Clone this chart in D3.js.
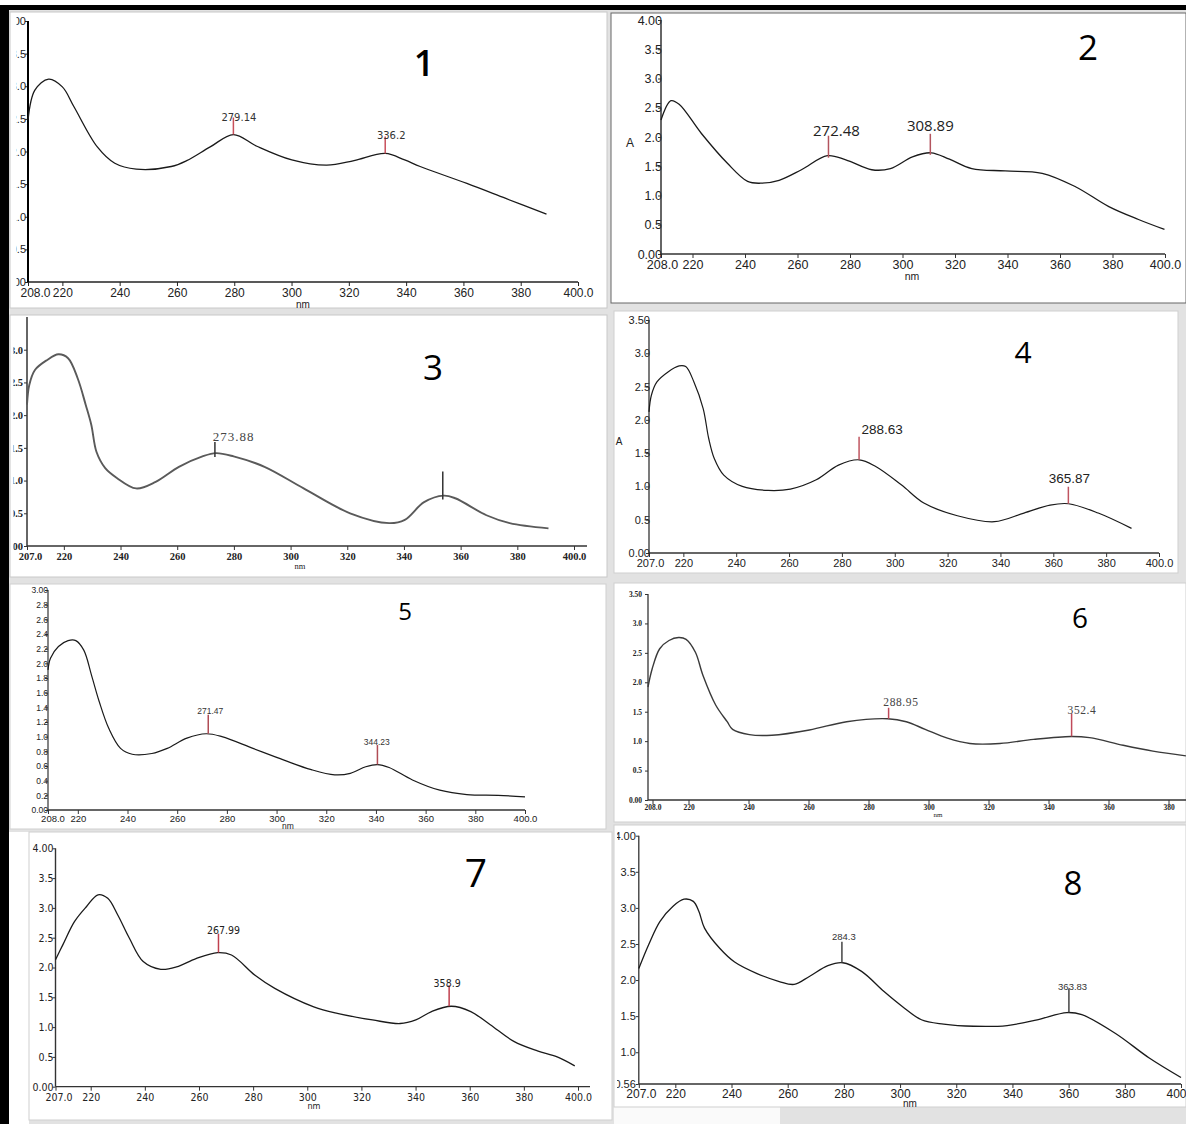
<!DOCTYPE html>
<meta charset="utf-8">
<script src="https://d3js.org/d3.v7.min.js"></script>
<style>
body { margin: 0; background: #fff; }
</style>
<div id="chart"></div>
<script>
// ---- data (wavelength nm, absorbance A) ----
const nm1 = [208, 210.4, 215.2, 220, 224, 232.2, 238.3, 245.8, 258, 263.4, 271.6, 279.7, 287.9, 300.1, 312.3, 321.8, 332.7, 339.5, 344.9, 361.2, 374.8, 389];
const abs1 = [2.48, 2.94, 3.11, 2.99, 2.69, 2.07, 1.82, 1.73, 1.77, 1.86, 2.07, 2.26, 2.08, 1.87, 1.79, 1.86, 1.97, 1.87, 1.77, 1.51, 1.28, 1.04];

const nm2 = [208, 211.8, 214.9, 223.4, 233.3, 241, 245.9, 253, 261.5, 271.4, 278.4, 288.3, 295.4, 303.8, 310.9, 317.9, 326.4, 339.1, 353.2, 365.9, 378.6, 389.9, 399.8];
const abs2 = [2.29, 2.62, 2.56, 2.06, 1.55, 1.24, 1.21, 1.26, 1.44, 1.68, 1.61, 1.44, 1.46, 1.66, 1.73, 1.62, 1.46, 1.42, 1.38, 1.15, 0.81, 0.59, 0.42];

const nm3 = [207, 207.8, 209.8, 214, 218.1, 221.5, 224.9, 227.7, 229.7, 231.5, 234.6, 238.7, 245.5, 252.4, 260.6, 268.9, 273.7, 279.9, 290.8, 304.6, 321, 334.8, 340.3, 347.1, 354, 358.1, 369.1, 377.3, 391];
const abs3 = [2.16, 2.46, 2.69, 2.84, 2.93, 2.87, 2.56, 2.16, 1.85, 1.44, 1.19, 1.04, 0.88, 0.98, 1.21, 1.37, 1.42, 1.37, 1.21, 0.88, 0.50, 0.35, 0.40, 0.67, 0.77, 0.73, 0.47, 0.35, 0.27];

const nm4 = [207, 207.9, 210, 214.2, 218.4, 220.9, 224, 227.5, 229.6, 231.7, 235.3, 242.3, 252.1, 260.5, 270.3, 278.7, 286.5, 292.8, 302.6, 311, 323.7, 337.7, 348.9, 358.8, 365.8, 377, 389.6];
const abs4 = [2.12, 2.37, 2.57, 2.72, 2.81, 2.80, 2.57, 2.17, 1.72, 1.42, 1.17, 1.00, 0.94, 0.96, 1.10, 1.32, 1.40, 1.30, 1.02, 0.75, 0.56, 0.47, 0.60, 0.72, 0.74, 0.60, 0.37];

const nm5 = [208, 209, 212.2, 216.1, 219.2, 222.4, 225.5, 228.6, 232.5, 237.2, 241.9, 249.8, 256, 263.9, 271.7, 278, 290.5, 303, 314, 323.4, 329.7, 335.9, 340.6, 345.3, 354.7, 365.7, 376.6, 389.2, 400];
const abs5 = [1.91, 2.07, 2.23, 2.31, 2.31, 2.18, 1.84, 1.48, 1.11, 0.84, 0.76, 0.77, 0.84, 0.98, 1.04, 1.00, 0.84, 0.68, 0.55, 0.48, 0.50, 0.59, 0.62, 0.58, 0.41, 0.27, 0.21, 0.20, 0.18];

const nm6 = [206.5, 207.9, 210.4, 213.5, 216.7, 219.2, 222.3, 224.8, 229.1, 232.9, 234.7, 240.3, 247.8, 260.3, 272.7, 286.4, 292.6, 298.9, 306.3, 313.8, 323.8, 335, 347.5, 353.7, 364.9, 374.8, 385.8];
const abs6 = [1.92, 2.23, 2.57, 2.71, 2.76, 2.73, 2.51, 2.12, 1.61, 1.33, 1.20, 1.11, 1.10, 1.19, 1.33, 1.38, 1.33, 1.20, 1.05, 0.96, 0.96, 1.03, 1.08, 1.06, 0.93, 0.83, 0.75];

const nm7 = [207, 209.7, 214, 218.4, 222.7, 226.3, 230, 234.3, 239.4, 245.9, 251.7, 258.9, 266.9, 272, 280.7, 288, 302.4, 311.1, 324.1, 334.3, 340.1, 345.9, 353.2, 360.4, 367.6, 376.3, 385, 392.3, 398.8];
const abs7 = [2.13, 2.38, 2.77, 3.02, 3.22, 3.16, 2.88, 2.49, 2.10, 1.97, 2.01, 2.15, 2.25, 2.21, 1.87, 1.65, 1.34, 1.23, 1.12, 1.06, 1.12, 1.26, 1.35, 1.26, 1.04, 0.76, 0.60, 0.50, 0.35];

const nm8 = [207, 210.5, 214.5, 219.1, 223.1, 226.4, 228.4, 230.4, 235.8, 241.1, 249.1, 257, 262.3, 267.7, 274.3, 279.6, 286.3, 294.3, 300.9, 307.6, 315.5, 326.2, 338.1, 348.8, 359.4, 364.7, 376.7, 388.7, 400];
const abs8 = [2.16, 2.49, 2.81, 3.02, 3.12, 3.09, 2.95, 2.72, 2.44, 2.25, 2.09, 1.98, 1.94, 2.05, 2.20, 2.24, 2.12, 1.84, 1.63, 1.45, 1.39, 1.36, 1.37, 1.45, 1.55, 1.52, 1.26, 0.92, 0.65];

// peak markers: where the stem sits, absorbance there, printed label
const peakNm1 = [279.7, 332.7], peakAbs1 = [2.26, 1.97], peakText1 = ["279.14", "336.2"];
const peakNm2 = [271.8, 310.6], peakAbs2 = [1.68, 1.73], peakText2 = ["272.48", "308.89"];
const peakNm3 = [273.3, 353.7], peakAbs3 = [1.42, 0.77], peakText3 = ["273.88", ""];
const peakNm4 = [286.5, 365.7], peakAbs4 = [1.40, 0.74], peakText4 = ["288.63", "365.87"];
const peakNm5 = [272.5, 340.6], peakAbs5 = [1.04, 0.62], peakText5 = ["271.47", "344.23"];
const peakNm6 = [286.7, 347.7], peakAbs6 = [1.38, 1.08], peakText6 = ["288.95", "352.4"];
const peakNm7 = [267.2, 352.4], peakAbs7 = [2.25, 1.35], peakText7 = ["267.99", "358.9"];
const peakNm8 = [279.3, 360.1], peakAbs8 = [2.24, 1.55], peakText8 = ["284.3", "363.83"];

// tick values and labels
const xTicks208 = [208, 220, 240, 260, 280, 300, 320, 340, 360, 380, 400];
const xLabels208 = ["208.0", "220", "240", "260", "280", "300", "320", "340", "360", "380", "400.0"];
const xTicks207 = [207, 220, 240, 260, 280, 300, 320, 340, 360, 380, 400];
const xLabels207 = ["207.0", "220", "240", "260", "280", "300", "320", "340", "360", "380", "400.0"];
const yTicks40 = [0, 0.5, 1, 1.5, 2, 2.5, 3, 3.5, 4];
const yLabels40 = ["0.00", "0.5", "1.0", "1.5", "2.0", "2.5", "3.0", "3.5", "4.00"];
const yTicks35 = [0, 0.5, 1, 1.5, 2, 2.5, 3, 3.5];
const yLabels35 = ["0.00", "0.5", "1.0", "1.5", "2.0", "2.5", "3.0", "3.50"];
const yTicks3 = [0, 0.5, 1, 1.5, 2, 2.5, 3];
const yLabels3 = ["0.00", "0.5", "1.0", "1.5", "2.0", "2.5", "3.0"];
const yTicks30 = [0, 0.2, 0.4, 0.6, 0.8, 1, 1.2, 1.4, 1.6, 1.8, 2, 2.2, 2.4, 2.6, 2.8, 3];
const yLabels30 = ["0.00", "0.2", "0.4", "0.6", "0.8", "1.0", "1.2", "1.4", "1.6", "1.8", "2.0", "2.2", "2.4", "2.6", "2.8", "3.00"];
const yTicks8 = [0.56, 1, 1.5, 2, 2.5, 3, 3.5, 4];
const yLabels8 = ["0.56", "1.0", "1.5", "2.0", "2.5", "3.0", "3.5", "4.00"];
const panelNames = ["1", "2", "3", "4", "5", "6", "7", "8"];

// table built from the arrays above
const spectra = [
  {nm: nm1, a: abs1, pk: peakNm1, pa: peakAbs1, pt: peakText1, xt: xTicks208, xl: xLabels208, yt: yTicks40, yl: yLabels40},
  {nm: nm2, a: abs2, pk: peakNm2, pa: peakAbs2, pt: peakText2, xt: xTicks208, xl: xLabels208, yt: yTicks40, yl: yLabels40},
  {nm: nm3, a: abs3, pk: peakNm3, pa: peakAbs3, pt: peakText3, xt: xTicks207, xl: xLabels207, yt: yTicks3, yl: yLabels3},
  {nm: nm4, a: abs4, pk: peakNm4, pa: peakAbs4, pt: peakText4, xt: xTicks207, xl: xLabels207, yt: yTicks35, yl: yLabels35},
  {nm: nm5, a: abs5, pk: peakNm5, pa: peakAbs5, pt: peakText5, xt: xTicks208, xl: xLabels208, yt: yTicks30, yl: yLabels30},
  {nm: nm6, a: abs6, pk: peakNm6, pa: peakAbs6, pt: peakText6, xt: xTicks208, xl: xLabels208, yt: yTicks35, yl: yLabels35},
  {nm: nm7, a: abs7, pk: peakNm7, pa: peakAbs7, pt: peakText7, xt: xTicks207, xl: xLabels207, yt: yTicks40, yl: yLabels40},
  {nm: nm8, a: abs8, pk: peakNm8, pa: peakAbs8, pt: peakText8, xt: xTicks207, xl: xLabels207, yt: yTicks8, yl: yLabels8},
];

// ---- layout of the collage (pixel geometry and styles) ----
const SANS = "'Liberation Sans', Arial, sans-serif";
const SERIF = "'Liberation Serif', 'DejaVu Serif', serif";
const NARROW = "'Liberation Sans Narrow', 'DejaVu Sans Condensed', sans-serif";
const layout = [
  {frame: [10, 12, 597, 296], clipX: 16.5, border: "#c8c8c8", x0: 208, xr: [28, 578], yd: [0, 4], yr: [282, 21],
   font: SANS, xFs: 12, yFs: 11, xPad: 2.2, yEnd: -2, firstDx: 7, ext: 0, axisColor: "#222", yAxisW: 2,
   nmAt: [303, 307.5], nmFs: 10, num: [424, 76, 36], aAt: null, numW: 600,
   line: {c: "#1a1a1a", w: 1.3},
   pk: {c: "#c8505c", stem: [17, 17], dx: [5.5, 6], dy: [3, 2.5], below: 0, fs: 10, font: "'DejaVu Sans', sans-serif", fc: "#333", ls: 0}},
  {frame: [611, 13, 575, 290], border: "#666", x0: 208, xr: [661, 1165], yd: [0, 4], yr: [254, 20],
   font: SANS, xFs: 12.5, yFs: 12.5, xPad: 2, yEnd: 1, firstDx: 1, ext: 0, axisColor: "#333", yAxisW: 1.5,
   nmAt: [912, 279.5], nmFs: 10.5, num: [1088, 60, 35], aAt: [630, 147, 12], numW: 500,
   line: {c: "#1a1a1a", w: 1.3},
   pk: {c: "#b3545e", stem: [20, 19], dx: [8, 0], dy: [0.5, -2.5], below: 2, fs: 15, font: "'Open Sans', sans-serif", fc: "#222", ls: 0}},
  {frame: [10, 315, 597, 262], clipX: 13.5, border: "#c8c8c8", x0: 207, xr: [27, 574], yd: [0, 3.5], yr: [546, 317],
   font: SERIF, xFs: 10.5, yFs: 10.5, xPad: 3, yEnd: -4, firstDx: 3, ext: 13, axisColor: "#333", yAxisW: 1.5,
   nmAt: [300, 569], nmFs: 8.5, num: [433, 380, 35], aAt: null, bold: true, numW: 500,
   line: {c: "#5a5a5a", w: 1.9},
   pk: {c: "#333", stem: [11, 24], dx: [18.7, 0], dy: [-1, 0], below: 4, fs: 13, font: SERIF, fc: "#444", ls: 1}},
  {frame: [614, 311, 564, 262], border: "#cfcfcf", x0: 207, xr: [649, 1159], yd: [0, 3.5], yr: [553, 320],
   font: SANS, xFs: 11, yFs: 11, xPad: 1.7, yEnd: 1, firstDx: 1, ext: 0, axisColor: "#333", yAxisW: 1.3,
   nmAt: [899, 580], nmFs: 10, num: [1023, 363, 30], aAt: [619, 445, 10], numW: 500,
   line: {c: "#1a1a1a", w: 1.2},
   pk: {c: "#c05560", stem: [23, 17], dx: [23, 1], dy: [-3, -4], below: 0, fs: 13.5, font: SANS, fc: "#222", ls: 0}},
  {frame: [10, 584, 596, 245], border: "#cfcfcf", x0: 208, xr: [48, 525], yd: [0, 3], yr: [810, 590],
   font: SANS, xFs: 9.5, yFs: 8.5, xPad: 1, yEnd: 0, firstDx: 4.5, ext: 0, axisColor: "#333", yAxisW: 1.2,
   nmAt: [288, 828.5], nmFs: 8.5, num: [405, 620, 24], aAt: null, numW: 500,
   line: {c: "#1a1a1a", w: 1.2},
   pk: {c: "#b04c55", stem: [19, 19.5], dx: [2, -0.7], dy: [-1, -0.3], below: 0, fs: 8.5, font: SANS, fc: "#333", ls: 0}},
  {frame: [614, 583, 572, 239], border: "#cfcfcf", x0: 206.5, xr: [648, 1228.5], yd: [0, 3.5], yr: [800, 594],
   font: SERIF, xFs: 7.5, yFs: 7.5, xPad: 1, yEnd: -6, firstDx: 0, ext: 0, axisColor: "#333", yAxisW: 1.3,
   nmAt: [938, 817], nmFs: 7, num: [1080, 628, 28], aAt: null, bold: true, numW: 500,
   line: {c: "#3a3a3a", w: 1.4},
   pk: {c: "#c04a5a", stem: [11, 23], dx: [12.3, 10.4], dy: [-2, 0.7], below: 0, fs: 11.5, font: SERIF, fc: "#444", ls: 0.6}},
  {frame: [29, 832, 583, 288], border: "#cfcfcf", x0: 207, xr: [55.5, 578], yd: [0, 4], yr: [1086.7, 848.3],
   font: NARROW, xFs: 10.5, yFs: 10.5, xPad: 2.4, yEnd: -2, firstDx: 3, ext: 12, axisColor: "#333", yAxisW: 1.4,
   nmAt: [314, 1109], nmFs: 9, num: [476, 887, 39], aAt: null, numW: 500,
   line: {c: "#1a1a1a", w: 1.3},
   pk: {c: "#c0404e", stem: [19, 21], dx: [5, -2], dy: [0.7, 1.5], below: 0, fs: 10.5, font: NARROW, fc: "#222", ls: 0}},
  {frame: [614, 825, 572, 282], clipX: 617, border: "#cfcfcf", x0: 207, xr: [638.8, 1181], yd: [0.56, 4], yr: [1084, 835.7],
   font: SANS, xFs: 12, yFs: 11, xPad: 1.5, yEnd: -3, firstDx: 2, ext: 0, axisColor: "#333", yAxisW: 1.3,
   nmAt: [910, 1106.5], nmFs: 10, num: [1073, 895, 33], aAt: null, numW: 500,
   line: {c: "#1a1a1a", w: 1.3},
   pk: {c: "#444", stem: [21, 24], dx: [2, 3.7], dy: [-2, 1.7], below: 0, fs: 9.5, font: SANS, fc: "#333", ls: 0}},
];

const W = 1186, H = 1124;
const svg = d3.select("#chart").append("svg")
    .attr("width", W)
    .attr("height", H)
    .style("display", "block");

// collage background: grey gaps, white margins, black scan border
svg.append("rect").attr("width", W).attr("height", H).attr("fill", "#e2e2e2");
svg.append("rect").attr("width", W).attr("height", 5).attr("fill", "#fff");
svg.append("rect").attr("x", 9).attr("y", 832).attr("width", 20).attr("height", H - 832).attr("fill", "#fff");
svg.append("rect").attr("x", 614).attr("y", 1107).attr("width", 166).attr("height", H - 1107).attr("fill", "#fafafa");
svg.append("rect").attr("x", 0).attr("y", 5).attr("width", W).attr("height", 5).attr("fill", "#000");
svg.append("rect").attr("x", 0).attr("y", 5).attr("width", 9).attr("height", H - 5).attr("fill", "#000");

const defs = svg.append("defs");

layout.forEach((p, i) => {
  const s = spectra[i];
  const [fx, fy, fw, fh] = p.frame;
  const g = svg.append("g");

  g.append("rect")
    .attr("x", fx).attr("y", fy).attr("width", fw).attr("height", fh)
    .attr("fill", "#fff")
    .attr("stroke", p.border)
    .attr("stroke-width", 1);

  const cx = p.clipX !== undefined ? p.clipX : fx;
  defs.append("clipPath").attr("id", "clip" + i)
    .append("rect")
      .attr("x", cx).attr("y", fy)
      .attr("width", fx + fw - cx).attr("height", fh);

  const c = g.append("g").attr("clip-path", `url(#clip${i})`);

  const x = d3.scaleLinear().domain([p.x0, 400]).range(p.xr);
  const y = d3.scaleLinear().domain(p.yd).range(p.yr);
  const ax = p.xr[0], ay = p.yr[0];

  // x axis
  const xa = c.append("g")
    .attr("transform", `translate(0,${ay})`)
    .call(d3.axisBottom(x)
      .tickValues(s.xt)
      .tickFormat((d, j) => s.xl[j])
      .tickSize(4)
      .tickSizeOuter(0)
      .tickPadding(p.xPad));
  xa.select(".domain").remove();
  xa.attr("font-family", p.font).attr("font-size", p.xFs);
  xa.selectAll("line").attr("stroke", p.axisColor);
  xa.selectAll("text").attr("fill", "#222")
    .attr("font-weight", p.bold ? "bold" : null)
    .attr("dx", (d, j) => j === 0 ? p.firstDx : 0);
  c.append("line")
    .attr("x1", ax).attr("x2", x(400) + p.ext)
    .attr("y1", ay).attr("y2", ay)
    .attr("stroke", p.axisColor).attr("stroke-width", 1.3);

  // y axis
  const ya = c.append("g")
    .attr("transform", `translate(${ax},0)`)
    .call(d3.axisLeft(y)
      .tickValues(s.yt)
      .tickFormat((d, j) => s.yl[j])
      .tickSize(3)
      .tickSizeOuter(0));
  ya.select(".domain").remove();
  ya.attr("font-family", p.font).attr("font-size", p.yFs);
  ya.selectAll("line").attr("stroke", p.axisColor);
  ya.selectAll("text").attr("x", p.yEnd).attr("fill", "#222")
    .attr("font-weight", p.bold ? "bold" : null);
  c.append("line")
    .attr("x1", ax).attr("x2", ax)
    .attr("y1", ay).attr("y2", p.yr[1])
    .attr("stroke", i === 0 ? "#000" : p.axisColor)
    .attr("stroke-width", p.yAxisW);

  // axis captions
  c.append("text")
    .attr("x", p.nmAt[0]).attr("y", p.nmAt[1])
    .attr("text-anchor", "middle")
    .attr("font-family", p.font).attr("font-size", p.nmFs)
    .attr("fill", "#222")
    .text("nm");
  if (p.aAt) {
    c.append("text")
      .attr("x", p.aAt[0]).attr("y", p.aAt[1])
      .attr("text-anchor", "middle")
      .attr("font-family", SANS).attr("font-size", p.aAt[2])
      .attr("fill", "#222")
      .text("A");
  }

  // spectrum
  const line = d3.line()
    .x(d => x(d[0]))
    .y(d => y(d[1]))
    .curve(d3.curveCatmullRom.alpha(0.5));
  c.append("path")
    .datum(d3.zip(s.nm, s.a))
    .attr("d", line)
    .attr("fill", "none")
    .attr("stroke", p.line.c)
    .attr("stroke-width", p.line.w)
    .attr("stroke-linejoin", "round");

  // peak markers
  s.pk.forEach((v, j) => {
    const px = x(v), py = y(s.pa[j]);
    const top = py - p.pk.stem[j];
    c.append("line")
      .attr("x1", px).attr("x2", px)
      .attr("y1", py + p.pk.below).attr("y2", top)
      .attr("stroke", p.pk.c)
      .attr("stroke-width", 1.5);
    if (s.pt[j]) {
      c.append("text")
        .attr("x", px + p.pk.dx[j])
        .attr("y", top + p.pk.dy[j])
        .attr("text-anchor", "middle")
        .attr("font-family", p.pk.font)
        .attr("font-size", p.pk.fs)
        .attr("letter-spacing", p.pk.ls)
        .attr("fill", p.pk.fc)
        .text(s.pt[j]);
    }
  });

  // panel number
  c.append("text")
    .attr("x", p.num[0]).attr("y", p.num[1])
    .attr("text-anchor", "middle")
    .attr("font-family", "'Open Sans', 'Noto Sans', sans-serif")
    .attr("font-weight", p.numW)
    .attr("font-size", p.num[2])
    .attr("fill", "#000")
    .text(panelNames[i]);
});
</script>
